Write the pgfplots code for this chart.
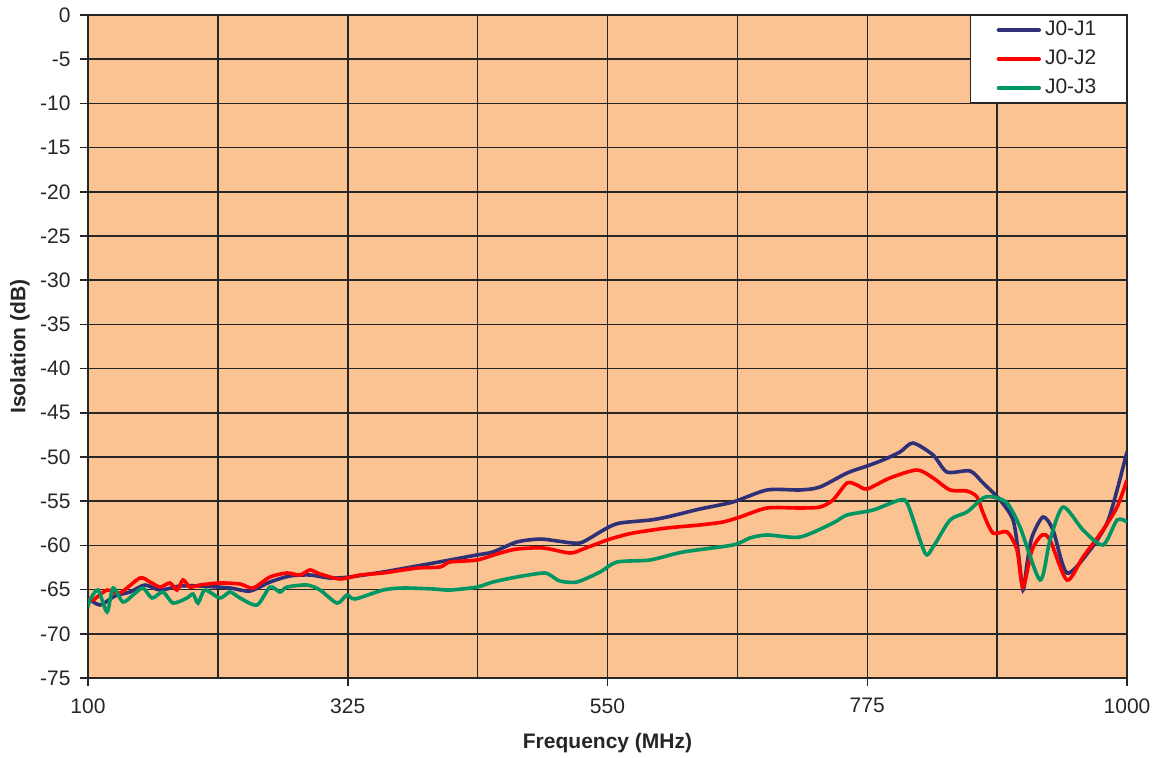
\documentclass[border=0pt]{standalone}
\usepackage{fontspec}
\setmainfont{Liberation Sans}
\usepackage{pgfplots}
\pgfplotsset{compat=1.18}
\definecolor{bgor}{RGB}{250,195,145}
\definecolor{cJone}{RGB}{48,48,120}
\definecolor{cJtwo}{RGB}{255,0,0}
\definecolor{cJthree}{RGB}{0,150,100}
\begin{document}
\fontsize{10.5}{12}\selectfont
\begin{tikzpicture}
\begin{axis}[
  scale only axis,
  width=519.5pt, height=331.5pt,
  xmin=100, xmax=1000, ymin=-75, ymax=0,
  xtick={100,325,550,775,1000},
  minor xtick={212.5,437.5,662.5,887.5},
  ytick={-75,-70,...,0},
  yticklabels={-75,-70,-65,-60,-55,-50,-45,-40,-35,-30,-25,-20,-15,-10,-5,0},
  xticklabels={100,325,550,775,1000},
  grid=both,
  major grid style={black!85, line width=0.75pt},
  minor grid style={black!85, line width=0.75pt},
  axis line style={black!85, line width=0.9pt},
  tick style={black!85, line width=0.75pt},
  major tick length=4pt, minor tick length=0pt,
  tick align=outside,
  xtick pos=bottom, ytick pos=left,
  axis background/.style={fill=bgor},
  ticklabel style={font=\fontsize{10.5}{12}\selectfont, text=black!85},
  xticklabel style={yshift=-2.5pt},
  yticklabel style={xshift=-1pt},
  xlabel={\bfseries Frequency (MHz)},
  ylabel={\bfseries Isolation (dB)},
  label style={font=\fontsize{10.5}{12}\selectfont, text=black!85},
  xlabel style={yshift=-3pt},
  ylabel style={yshift=-2pt},
  legend style={at={(1,1)}, anchor=north east, draw=black!85, line width=0.6pt, fill=white,
    font=\fontsize{10.5}{12}\selectfont, text=black!85, row sep=0pt, inner xsep=13pt, inner ysep=0pt,
    nodes={text height=7.6pt, text depth=2.4pt, inner ysep=2.25pt},
    cells={anchor=west}},
  legend image code/.code={\draw[#1, line width=2.2pt, line cap=round] (0cm,0cm) -- (20pt,0cm);},
  every axis plot/.append style={line width=1.8pt, smooth, tension=0.45},
]
\coordinate (bl) at (rel axis cs:0,0);
\coordinate (tr) at (rel axis cs:1,1);
\addplot[color=cJone] coordinates {
(100,-65.95) (110.4,-66.74) (123.4,-65.72) (136.4,-65.27) (149.4,-64.48) (162.4,-65.05)
(179.7,-64.59) (197.0,-64.59) (223.0,-64.82) (240.3,-65.16) (257.7,-64.14) (275.0,-63.46)
(292.3,-63.35) (309.6,-63.69) (327.0,-63.57) (355.5,-63.01) (385.0,-62.33) (413.6,-61.65)
(437.0,-61.08) (450.8,-60.74) (471.6,-59.61) (491.5,-59.28) (506.3,-59.50) (520.1,-59.73)
(528.8,-59.61) (549.6,-58.03) (560.8,-57.47) (586.8,-57.13) (601.5,-56.79) (630.1,-55.88)
(658.7,-55.09) (688.2,-53.73) (716.8,-53.73) (734.1,-53.39) (757.5,-51.81) (774.8,-51.02)
(788.6,-50.34) (803.4,-49.43) (814.6,-48.42) (832.0,-49.77) (844.1,-51.70) (864.0,-51.58)
(875.3,-52.94) (890.0,-54.86) (901.3,-57.13) (906,-61.0) (909.9,-65.05) (913.5,-62.0) (917.7,-59.05) (927.2,-56.79)
(935.9,-58.26) (948.0,-63.12) (968.0,-60.52) (982.7,-57.47) (991.4,-53.73) (1000,-49.4)
};
\addlegendentry{J0-J1}
\addplot[color=cJtwo] coordinates {
(100,-65.95) (104.3,-66.18) (116.5,-65.05) (127.7,-65.38) (145.0,-63.69) (153.7,-64.14)
(162.4,-64.71) (171.0,-64.25) (177.1,-65.05) (182.3,-63.91) (188.4,-64.71) (197.0,-64.48)
(214.3,-64.25) (231.7,-64.37) (242.9,-64.82) (257.7,-63.57) (272.4,-63.12) (283.6,-63.35)
(292.3,-62.78) (301.0,-63.23) (318.3,-63.80) (335.6,-63.35) (355.5,-63.12) (385.0,-62.56)
(404.9,-62.44) (413.6,-61.88) (437.0,-61.65) (456.9,-60.86) (471.6,-60.41) (494.1,-60.29)
(517.5,-60.86) (528.8,-60.41) (549.6,-59.39) (558.2,-59.05) (572.1,-58.60) (601.5,-58.03)
(630.1,-57.69) (650.0,-57.35) (664.8,-56.79) (688.2,-55.77) (716.8,-55.77) (734.1,-55.66)
(745.3,-54.86) (757.5,-52.94) (766.1,-53.17) (774.8,-53.62) (794.7,-52.37) (818.1,-51.47)
(832.0,-52.37) (846.7,-53.73) (861.4,-53.85) (870.1,-54.52) (875.3,-56.33) (883.9,-58.60)
(896.1,-58.48) (904.7,-60.52) (909.9,-64.71) (917.7,-60.52) (926.4,-58.82) (933.3,-59.39)
(948.0,-63.91) (961.9,-61.31) (979.2,-58.26) (991.4,-55.66) (1000,-52.6)
};
\addlegendentry{J0-J2}
\addplot[color=cJthree] coordinates {
(100,-66.97) (101.7,-66.18) (108.7,-65.05) (116.5,-67.53) (121.7,-64.82) (130.3,-66.40)
(139.0,-65.61) (147.6,-64.82) (155.4,-65.95) (165.0,-65.27) (173.6,-66.52) (185.8,-65.95)
(191.0,-65.50) (195.3,-66.52) (201.3,-65.05) (214.3,-65.95) (223.0,-65.27) (231.7,-65.95)
(246.4,-66.74) (257.7,-64.71) (266.3,-65.27) (272.4,-64.71) (289.7,-64.48) (301.0,-65.05)
(315.7,-66.52) (324.4,-65.61) (331.3,-66.06) (355.5,-65.05) (372.9,-64.82) (398.9,-64.93)
(413.6,-65.05) (437.0,-64.71) (450.8,-64.14) (471.6,-63.57) (494.1,-63.12) (500.2,-63.35)
(508.9,-64.03) (523.6,-64.14) (543.5,-63.01) (558.2,-61.88) (586.8,-61.65) (615.4,-60.75)
(658.7,-59.95) (673.4,-59.16) (688.2,-58.82) (716.8,-59.05) (745.3,-57.47) (757.5,-56.56)
(780.0,-56.00) (803.4,-54.86) (810.3,-55.43) (825.0,-60.86) (832.0,-60.18) (846.7,-57.13)
(861.4,-56.22) (875.3,-54.64) (883.9,-54.52) (896.1,-55.20) (907.3,-57.92) (924.7,-63.91)
(933.3,-59.39) (944.6,-55.66) (961.9,-58.26) (979.2,-59.95) (991.4,-57.13) (1000,-57.35)
};
\addlegendentry{J0-J3}
\end{axis}
\pgfresetboundingbox
\path ([xshift=-44pt,yshift=-39.5pt]bl) rectangle ([xshift=14pt,yshift=7.5pt]tr);
\end{tikzpicture}
\end{document}
